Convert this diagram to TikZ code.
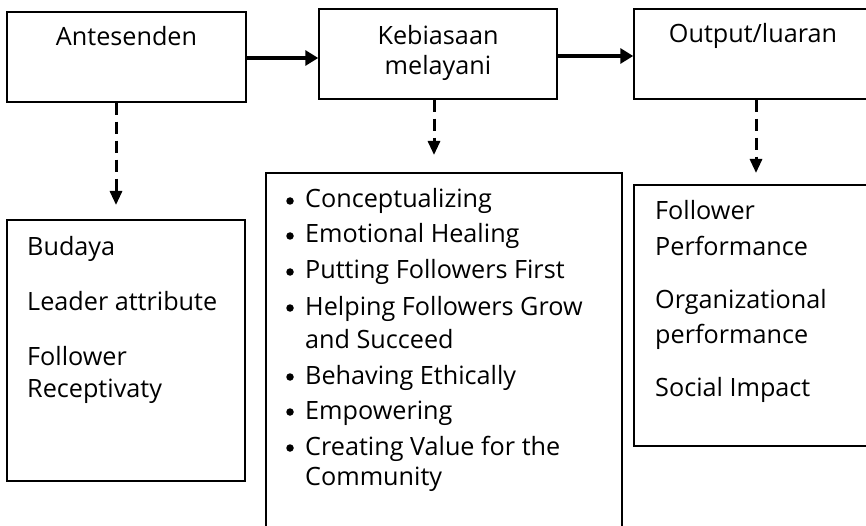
\documentclass[tikz,border=0pt]{standalone}
\usepackage{fontspec}
\setmainfont{Open Sans}
\usetikzlibrary{arrows.meta}
\begin{document}
\begin{tikzpicture}[x=1pt,y=-1pt,
  box/.style={draw=black,line width=1.5pt,minimum width=#1,inner sep=0pt},
  txt/.style={anchor=base west,inner sep=0pt,font=\fontsize{25.2}{30}\selectfont},
  ctxt/.style={anchor=base,inner sep=0pt,font=\fontsize{25.2}{30}\selectfont},
  dot/.style={circle,fill=black,inner sep=0pt,minimum size=7.5pt},
  solidarrow/.style={line width=3.2pt,-{Triangle[length=13pt,width=15pt]}},
  dasharrow/.style={line width=3pt,dash pattern=on 12pt off 7pt,-{Triangle[length=14pt,width=12pt]}}
]
\useasboundingbox (0,0) rectangle (866,526);
% top boxes
\node[box=239pt,minimum height=90pt] (A) at (126.5,57) {};
\node[box=238pt,minimum height=90pt] (B) at (438,54) {};
\node[box=238pt,minimum height=90pt] (C) at (753,54) {};
% bottom boxes
\node[box=238pt,minimum height=261pt] (D) at (126,350.5) {};
\node[box=356pt,minimum height=367pt] (E) at (444,356.5) {};
\node[box=238pt,minimum height=261pt] (F) at (753,315.5) {};
% top texts
\node[ctxt] (tA) at (126.5,46) {Antesenden};
\node[ctxt] (tB1) at (438,45) {Kebiasaan};
\node[ctxt] (tB2) at (438,75) {melayani};
\node[ctxt] (tC) at (753,43) {Output/luaran};
% box D texts
\node[txt] (d1) at (27,255) {Budaya};
\node[txt] (d2) at (27,310) {Leader attribute};
\node[txt] (d3) at (27,365) {Follower};
\node[txt] (d4) at (27,397) {Receptivaty};
% box E bullets
\foreach \y/\t [count=\i] in {208/Conceptualizing,243/Emotional Healing,279/Putting Followers First,315/Helping Followers Grow,384/Behaving Ethically,419/Empowering,455/Creating Value for the}{
  \node[dot] (eb\i) at (290,\y-7) {};
  \node[txt] (e\i) at (305,\y) {\t};
}
\node[txt] (e8) at (305,348) {and Succeed};
\node[txt] (e9) at (305,485) {Community};
% box F texts
\node[txt] (f1) at (655,220) {Follower};
\node[txt] (f2) at (655,255) {Performance};
\node[txt] (f3) at (655,308) {Organizational};
\node[txt] (f4) at (655,343) {performance};
\node[txt] (f5) at (655,396) {Social Impact};
% connectors
\draw[solidarrow] ([yshift=-1pt]A.east) -- ([yshift=-1pt]A.east -| B.west);
\draw[solidarrow] ([yshift=-2pt]B.east) -- ([yshift=-2pt]B.east -| C.west);
\coordinate (aend) at (116,205);
\coordinate (bend) at (434,155);
\coordinate (cend) at (756,173);
\draw[dasharrow] (A.south -| aend) -- (aend);
\draw[dasharrow] (B.south -| bend) -- (bend);
\draw[dasharrow] (C.south -| cend) -- (cend);
\end{tikzpicture}
\end{document}
